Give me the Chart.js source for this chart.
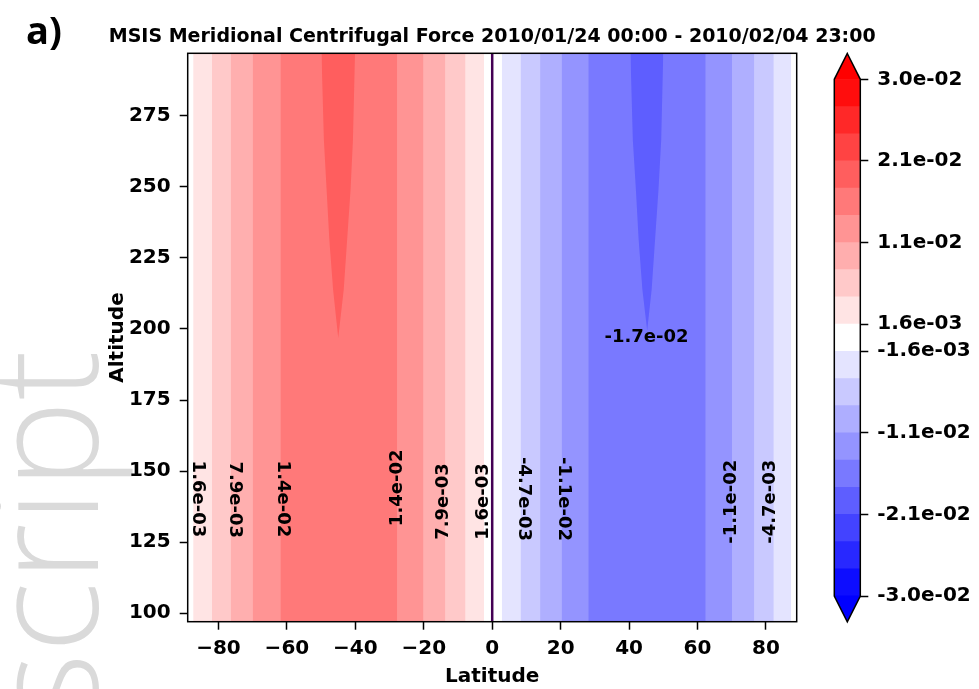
<!DOCTYPE html>
<html>
<head>
<meta charset="utf-8">
<script src="https://cdn.jsdelivr.net/npm/chart.js@4.4.0/dist/chart.umd.min.js"></script>
<style>
  html, body { margin: 0; padding: 0; background: #fff; }
  #wrap { position: relative; width: 979px; height: 689px; overflow: hidden; }
  #main, #cbar { position: absolute; top: 0; }
  #main { left: 0; }
  #cbar { left: 800px; }
</style>
</head>
<body>
<div id="wrap">
  <canvas id="main" width="979" height="689"></canvas>
  <canvas id="cbar" width="179" height="689"></canvas>
</div>
<script>
// contour levels of the colour bar (20 levels, 19 bands)
const contourLevels = [-0.03, -0.02684, -0.02368, -0.02053, -0.01737, -0.01421, -0.01105, -0.00789, -0.00474, -0.00158,
                       0.00158, 0.00474, 0.00789, 0.01105, 0.01421, 0.01737, 0.02053, 0.02368, 0.02684, 0.03];
const colorbarTicks = [-0.03, -0.02053, -0.01105, -0.00158, 0.00158, 0.01105, 0.02053, 0.03];

const latRange = [-89, 89];
const altRange = [97, 297];
const latTicks = [-80, -60, -40, -20, 0, 20, 40, 60, 80];
const altTicks = [100, 125, 150, 175, 200, 225, 250, 275];

// southern side: force >= level between west and east latitude
const redLevels = [0.00158, 0.00474, 0.00789, 0.01105, 0.01421];
const redWest = [-87.4, -81.9, -76.4, -70.0, -61.9];
const redEast = [-2.4, -7.8, -13.7, -20.1, -27.8];
// northern side: force <= level between west and east latitude
const blueLevels = [-0.00158, -0.00474, -0.00789, -0.01105, -0.01421];
const blueWest = [2.8, 8.3, 14.0, 20.3, 28.1];
const blueEast = [87.4, 82.3, 76.6, 70.1, 62.4];

// tongues of |F| > 1.7e-02 above ~200 km
const redTongueLat = [-49.9, -49.2, -48.4, -47.6, -46.5, -45.0, -43.4, -42.4, -41.4, -40.7, -40.1];
const redTongueAlt = [297, 266.6, 249, 231.4, 213.8, 196.8, 213.8, 231.4, 249, 266.6, 297];
const blueTongueLat = [40.4, 41.1, 42.0, 42.8, 43.9, 45.3, 46.6, 47.6, 48.6, 49.4, 50.0];
const blueTongueAlt = [297, 266.6, 249, 231.4, 213.8, 199.5, 213.8, 231.4, 249, 266.6, 297];

// contour labels
const labelText = ['1.6e-03', '7.9e-03', '1.4e-02', '1.4e-02', '7.9e-03', '1.6e-03',
                   '-4.7e-03', '-1.1e-02', '-1.1e-02', '-4.7e-03', '-1.7e-02'];
const labelLat = [-86.1, -75.4, -61.2, -27.7, -14.3, -2.6, 9.1, 20.8, 69.9, 81.3, 45.1];
const labelAlt = [140.2, 139.9, 140.2, 144.1, 139.3, 139.3, 140.2, 140.2, 139.2, 139.2, 196.9];
const labelRot = [90, 90, 90, -90, -90, -90, 90, 90, -90, -90, 0];

const titleText = 'MSIS Meridional Centrifugal Force 2010/01/24 00:00 - 2010/02/04 23:00';

const FONT = 'DejaVu Sans';
Chart.defaults.font.family = FONT;
Chart.defaults.color = '#000';

const vmin = contourLevels[0], vmax = contourLevels[contourLevels.length - 1];
const nBands = contourLevels.length - 1;

function bwr(t) {
  let r, g, b;
  if (t < 0.5) { r = g = 2 * t; b = 1; } else { r = 1; g = b = 2 - 2 * t; }
  return `rgb(${Math.round(r * 255)},${Math.round(g * 255)},${Math.round(b * 255)})`;
}
// colour of the band that lies just above (dir=1) or below (dir=-1) a level
function levelColor(lv, dir) {
  return bwr((lv - vmin) / (vmax - vmin) + dir * 0.5 / nBands);
}

function sci(v) {
  const [m, e] = v.toExponential(1).split('e');
  const ex = parseInt(e, 10);
  return m + 'e' + (ex < 0 ? '-' : '+') + String(Math.abs(ex)).padStart(2, '0');
}

const datasets = [];
redLevels.forEach((lv, i) => {
  datasets.push({
    data: [{ x: redWest[i], y: altRange[1] }, { x: redEast[i], y: altRange[1] }],
    backgroundColor: levelColor(lv, 1), borderColor: 'transparent', borderWidth: 0,
    fill: 'start', order: 20 - i
  });
});
blueLevels.forEach((lv, i) => {
  datasets.push({
    data: [{ x: blueWest[i], y: altRange[1] }, { x: blueEast[i], y: altRange[1] }],
    backgroundColor: levelColor(lv, -1), borderColor: 'transparent', borderWidth: 0,
    fill: 'start', order: 20 - i
  });
});
datasets.push({
  data: redTongueLat.map((x, i) => ({ x, y: redTongueAlt[i] })),
  backgroundColor: levelColor(0.01737, 1), borderColor: 'transparent', borderWidth: 0,
  fill: 'end', order: 5
});
datasets.push({
  data: blueTongueLat.map((x, i) => ({ x, y: blueTongueAlt[i] })),
  backgroundColor: levelColor(-0.01737, -1), borderColor: 'transparent', borderWidth: 0,
  fill: 'end', order: 5
});
// zero contour
datasets.push({
  data: [{ x: 0, y: altRange[0] }, { x: 0, y: altRange[1] }],
  borderColor: '#440154', borderWidth: 2.5, fill: false, order: 1
});

const contourLabels = {
  id: 'contourLabels',
  afterDatasetsDraw(chart) {
    const { ctx, scales: { x, y } } = chart;
    ctx.save();
    ctx.font = `bold 18px "${FONT}"`;
    ctx.fillStyle = '#000';
    ctx.textAlign = 'center';
    ctx.textBaseline = 'middle';
    labelText.forEach((t, i) => {
      ctx.save();
      ctx.translate(x.getPixelForValue(labelLat[i]), y.getPixelForValue(labelAlt[i]));
      ctx.rotate(labelRot[i] * Math.PI / 180);
      ctx.fillText(t, 0, 0);
      ctx.restore();
    });
    ctx.restore();
  }
};

const decorations = {
  id: 'decorations',
  beforeDraw(chart) {
    // faint "script" watermark on the left, reading upwards
    const ctx = chart.ctx;
    ctx.save();
    ctx.fillStyle = '#dadada';
    ctx.font = '300 150px "Open Sans"';
    const w = ctx.measureText('script').width;
    ctx.translate(98, 350 + w);
    ctx.rotate(-Math.PI / 2);
    ctx.fillText('script', 0, 0);
    ctx.restore();
  },
  afterDraw(chart) {
    const { ctx, chartArea: a } = chart;
    ctx.save();
    ctx.strokeStyle = '#000';
    ctx.lineWidth = 1.5;
    ctx.strokeRect(a.left, a.top, a.right - a.left, a.bottom - a.top);
    ctx.fillStyle = '#000';
    ctx.textBaseline = 'alphabetic';
    ctx.font = `bold 19px "${FONT}"`;
    ctx.textAlign = 'center';
    ctx.fillText(titleText, (a.left + a.right) / 2, 41.5);
    ctx.textAlign = 'left';
    ctx.font = 'bold 38px "Open Sans"';
    ctx.fillText('a)', 26, 44);
    ctx.restore();
  }
};

new Chart(document.getElementById('main'), {
  type: 'line',
  data: { datasets },
  options: {
    responsive: false,
    animation: false,
    devicePixelRatio: 1,
    layout: { padding: { left: 102, right: 182.3, top: 53.3, bottom: 0 } },
    elements: { point: { radius: 0 }, line: { tension: 0 } },
    plugins: {
      legend: { display: false },
      tooltip: { enabled: false },
      title: { display: false }
    },
    scales: {
      x: {
        type: 'linear', min: latRange[0], max: latRange[1],
        afterBuildTicks: s => { s.ticks = latTicks.map(v => ({ value: v })); },
        afterFit: s => { s.height = 67.3; },
        border: { display: false },
        grid: { drawOnChartArea: false, tickLength: 8, tickWidth: 1.5, tickColor: '#000' },
        ticks: {
          autoSkip: false, maxRotation: 0, padding: 7,
          font: { size: 20, weight: 'bold' },
          callback: v => (v < 0 ? '\u2212' : '') + Math.abs(v)
        },
        title: { display: true, text: 'Latitude', font: { size: 20, weight: 'bold' }, padding: { top: 0, bottom: 0 } }
      },
      y: {
        type: 'linear', min: altRange[0], max: altRange[1],
        afterBuildTicks: s => { s.ticks = altTicks.map(v => ({ value: v })); },
        afterFit: s => { s.width = 85.7; },
        border: { display: false },
        grid: { drawOnChartArea: false, tickLength: 8, tickWidth: 1.5, tickColor: '#000' },
        ticks: { autoSkip: false, padding: 9, font: { size: 20, weight: 'bold' } },
        title: { display: true, text: 'Altitude', font: { size: 20, weight: 'bold' }, padding: { top: 4, bottom: 4 } }
      }
    }
  },
  plugins: [contourLabels, decorations]
});

// ---- colour bar ----
const cbDatasets = [];
for (let b = 0; b < nBands; b++) {
  cbDatasets.push({
    data: [[vmin, contourLevels[b + 1]]],
    backgroundColor: bwr((b + 0.5) / nBands),
    borderWidth: 0,
    order: b
  });
}

const cbExtras = {
  id: 'cbExtras',
  afterDatasetsDraw(chart) {
    const { ctx, chartArea: a, scales: { y } } = chart;
    const top = y.getPixelForValue(vmax), bot = y.getPixelForValue(vmin);
    const ext = 0.05 * (bot - top);
    const mid = (a.left + a.right) / 2;
    ctx.save();
    ctx.fillStyle = bwr(1);
    ctx.beginPath();
    ctx.moveTo(a.left, top + 0.5); ctx.lineTo(mid, top - ext); ctx.lineTo(a.right, top + 0.5);
    ctx.closePath(); ctx.fill();
    ctx.fillStyle = bwr(0);
    ctx.beginPath();
    ctx.moveTo(a.left, bot - 0.5); ctx.lineTo(mid, bot + ext); ctx.lineTo(a.right, bot - 0.5);
    ctx.closePath(); ctx.fill();
    ctx.strokeStyle = '#000';
    ctx.lineWidth = 1.5;
    ctx.beginPath();
    ctx.moveTo(mid, top - ext);
    ctx.lineTo(a.right, top);
    ctx.lineTo(a.right, bot);
    ctx.lineTo(mid, bot + ext);
    ctx.lineTo(a.left, bot);
    ctx.lineTo(a.left, top);
    ctx.closePath();
    ctx.stroke();
    ctx.restore();
  }
};

new Chart(document.getElementById('cbar'), {
  type: 'bar',
  data: { labels: [''], datasets: cbDatasets },
  options: {
    responsive: false,
    animation: false,
    devicePixelRatio: 1,
    layout: { padding: { left: 34.3, top: 79.3, bottom: 93, right: 0 } },
    datasets: { bar: { barPercentage: 1, categoryPercentage: 1, grouped: false } },
    plugins: { legend: { display: false }, tooltip: { enabled: false } },
    scales: {
      x: { display: false },
      y: {
        position: 'right', min: vmin, max: vmax,
        afterBuildTicks: s => { s.ticks = colorbarTicks.map(v => ({ value: v })); },
        afterFit: s => { s.width = 118.7; },
        border: { display: false },
        grid: { drawOnChartArea: false, tickLength: 8, tickWidth: 1.5, tickColor: '#000' },
        ticks: { autoSkip: false, padding: 9, font: { size: 20, weight: 'bold' }, callback: v => sci(v) }
      }
    }
  },
  plugins: [cbExtras]
});
</script>
</body>
</html>
